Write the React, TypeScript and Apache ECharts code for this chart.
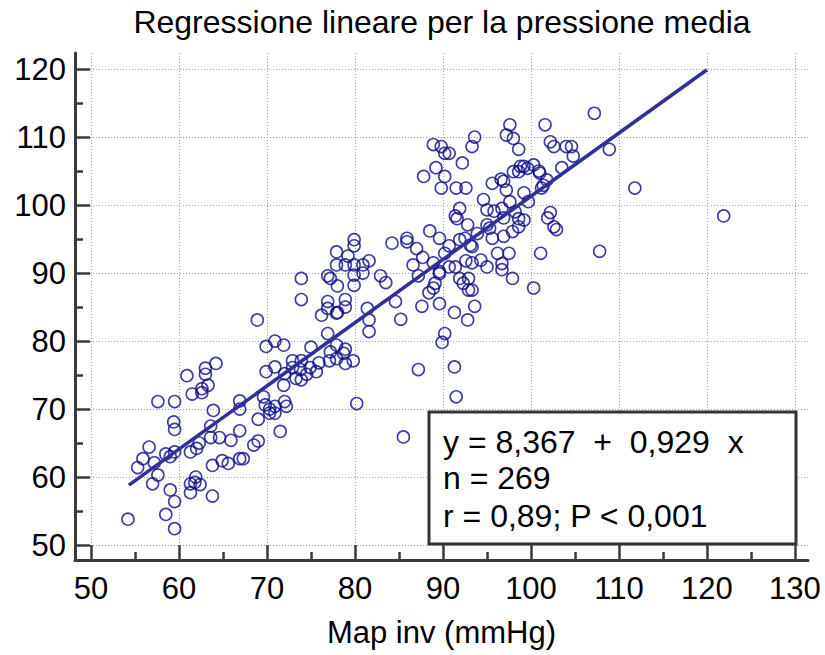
import React, { useEffect, useRef } from "react";
import * as echarts from "echarts";

// Map inv (mmHg) — x values
const mapInv: number[] = [
  54.2, 55.3, 55.9, 56.6, 57.2, 57.6, 57.0, 57.6, 58.5, 59.0, 59.0, 58.5, 59.5, 59.5, 59.5, 59.4, 59.5, 59.5,
  60.9, 61.5, 62.6, 62.6, 63.3, 63.0, 63.0, 64.2, 61.3, 62.0, 62.3, 61.3, 61.9, 61.8, 62.4, 61.3, 63.8, 63.8,
  63.6, 64.6, 63.6, 63.9, 64.9, 65.6, 65.9, 66.9, 66.9, 67.3, 66.9, 66.9, 68.5, 69.0, 69.0, 69.6, 69.8, 70.3,
  70.9, 70.9, 70.3, 69.9, 70.9, 69.9, 70.9, 71.5, 68.9,
  73.9, 76.9, 78.9, 78.9, 76.9, 76.2, 77.9, 81.4, 81.6, 81.6, 76.9, 71.9, 75.0, 77.9, 77.2, 78.7, 77.9, 77.1,
  78.9, 79.8, 72.9, 73.9, 75.9, 72.9, 73.8, 74.9, 75.6, 72.0, 73.3, 73.9, 74.5, 71.9, 72.0, 72.2, 80.2, 78.0,
  78.9,
  77.9, 79.9, 79.9, 79.2, 77.9, 78.9, 79.9, 80.9, 81.6, 80.9, 79.9, 79.9, 76.9, 77.2, 78.0, 73.9, 82.9, 83.5,
  84.2, 85.9, 86.6, 84.6, 85.2, 85.9, 87.0, 87.7, 87.2, 88.9, 89.6, 89.6, 88.5, 89.6, 90.7, 90.2, 91.9, 92.5,
  93.1, 93.3, 90.7, 91.4, 92.6, 93.3, 94.3, 95.0, 96.2, 96.7, 96.7, 97.5, 97.9, 91.9, 92.9, 92.3, 92.9, 93.3,
  89.1, 88.9, 88.4, 87.6, 89.6, 91.3, 93.6, 92.8, 90.2, 89.9, 87.2, 91.3, 91.5, 85.5,
  97.6, 97.2, 98.0, 98.6, 93.6, 93.3, 88.9, 89.8, 90.2, 90.7, 92.2, 89.2, 87.8, 90.2, 89.8, 91.5, 92.6, 95.6,
  96.6, 96.9, 97.2, 98.0, 98.6, 99.2, 99.6, 99.2, 94.6, 97.6, 91.9, 91.4, 91.6, 95.0, 95.8, 96.7, 96.9, 98.2,
  98.6, 99.2, 92.8, 93.9, 95.0, 95.3, 95.6, 96.9, 97.9, 98.6,
  107.2, 101.6, 102.2, 102.6, 104.0, 104.6, 104.8, 108.9, 103.5, 100.3, 100.9, 101.0, 98.8, 101.8, 101.4,
  101.2, 99.7, 111.8, 102.2, 101.9, 102.6, 102.9, 101.1, 107.8, 100.3, 121.9,
];

// Pressione media — y values
const pressione: number[] = [
  53.8, 61.4, 62.7, 64.4, 62.1, 60.3, 59.0, 71.1, 63.4, 63.0, 58.1, 54.5, 52.4, 56.4, 63.7, 68.1, 67.0, 71.1,
  74.9, 72.2, 73.0, 72.4, 73.5, 76.0, 75.1, 76.7, 63.7, 64.2, 65.0, 59.0, 60.0, 59.2, 58.9, 57.7, 57.2, 61.7,
  65.8, 65.8, 67.5, 69.8, 62.4, 62.0, 65.4, 66.8, 62.7, 62.7, 71.2, 70.0, 64.7, 65.3, 68.5, 71.8, 70.6, 69.4,
  69.4, 70.4, 70.0, 75.5, 76.2, 79.2, 80.0, 66.7, 83.1,
  86.1, 85.8, 86.1, 85.0, 84.8, 83.8, 84.1, 84.8, 83.1, 81.4, 81.1, 79.4, 79.1, 79.4, 78.4, 78.2, 77.4, 77.1,
  76.7, 77.1, 77.1, 77.1, 76.8, 76.1, 75.8, 76.1, 75.5, 75.2, 74.5, 74.3, 75.1, 73.5, 71.1, 70.4, 70.8, 84.2,
  78.8,
  93.1, 94.0, 94.9, 92.5, 91.2, 91.2, 91.2, 91.2, 91.8, 90.0, 89.7, 88.2, 89.6, 89.2, 88.1, 89.2, 89.6, 88.6,
  94.4, 94.6, 91.2, 85.8, 83.2, 95.1, 93.6, 92.3, 89.6, 91.5, 90.2, 89.9, 96.2, 95.1, 94.0, 92.9, 94.9, 95.1,
  94.1, 93.9, 90.9, 90.9, 91.8, 91.5, 91.9, 90.9, 92.9, 91.4, 90.5, 92.9, 89.2, 89.2, 89.2, 88.5, 87.5, 87.5,
  88.5, 87.8, 87.1, 85.1, 85.5, 84.2, 85.1, 83.1, 81.1, 79.8, 75.8, 76.2, 71.8, 65.9,
  111.8, 110.3, 109.8, 108.2, 110.0, 108.6, 108.9, 108.6, 107.6, 107.6, 106.2, 105.5, 104.2, 104.2, 102.5,
  102.5, 102.5, 103.2, 103.8, 103.5, 102.2, 104.9, 104.9, 105.7, 105.4, 101.8, 100.8, 100.5, 99.5, 98.4, 98.0,
  99.3, 99.1, 99.5, 98.1, 99.0, 98.0, 97.8, 97.1, 95.8, 97.1, 96.6, 95.1, 95.4, 96.1, 96.8,
  113.5, 111.8, 109.3, 108.6, 108.6, 108.6, 107.2, 108.2, 105.5, 105.9, 105.0, 104.7, 105.7, 103.7, 102.9,
  102.5, 100.5, 102.5, 98.9, 98.1, 96.8, 96.4, 92.9, 93.2, 87.8, 98.4,
];

// Regression line end points (y = 8,367 + 0,929 x)
const lineX: number[] = [54.3, 120.0];
const lineY: number[] = [58.8, 119.9];

const xTicks: number[] = [50, 60, 70, 80, 90, 100, 110, 120, 130];
const yTicks: number[] = [50, 60, 70, 80, 90, 100, 110, 120];

const titleText = "Regressione lineare per la pressione media";
const xName = "Map inv (mmHg)";
const statsLines: string[] = ["y = 8,367  +  0,929  x", "n = 269", "r = 0,89; P < 0,001"];

const FONT = '"Liberation Sans", Arial, sans-serif';
const AXIS_COLOR = "#3a3a3a";

export default function App() {
  const ref = useRef<HTMLDivElement>(null);

  useEffect(() => {
    if (!ref.current) return;
    const chart = echarts.init(ref.current, undefined, { renderer: "svg" });

    const points = mapInv.map((x, i) => [x, pressione[i]]);
    const linePts = lineX.map((x, i) => [x, lineY[i]]);

    const axisCommon = {
      type: "value" as const,
      splitNumber: 8,
      minInterval: 10,
      maxInterval: 10,
      axisLine: { show: true, onZero: false, lineStyle: { color: AXIS_COLOR, width: 3 } },
      axisTick: { show: true, inside: true, length: 15, lineStyle: { color: AXIS_COLOR, width: 2.5 } },
      minorTick: { show: true, splitNumber: 2, length: 8, lineStyle: { color: AXIS_COLOR, width: 2.5 } },
      splitLine: { show: true, lineStyle: { color: "#a0a0a0", width: 1, type: [1, 2] as any } },
      axisLabel: { color: "#000", fontSize: 31, fontFamily: FONT },
    };

    chart.setOption({
      animation: false,
      backgroundColor: "#fff",
      grid: { left: 75, top: 53, right: 17, bottom: 95, outerBoundsMode: "none" } as any,
      xAxis: {
        ...axisCommon,
        min: 48.18,
        max: 131.48,
        axisTick: { ...axisCommon.axisTick, customValues: xTicks },
        axisLabel: { ...axisCommon.axisLabel, customValues: xTicks, margin: 13 },
        name: xName,
        nameLocation: "middle",
        nameGap: 57,
        nameTextStyle: { color: "#000", fontSize: 31, fontFamily: FONT },
      },
      yAxis: {
        ...axisCommon,
        min: 47.8,
        max: 122.36,
        axisTick: { ...axisCommon.axisTick, customValues: yTicks },
        axisLabel: { ...axisCommon.axisLabel, customValues: yTicks, margin: 9 },
      },
      series: [
        {
          type: "scatter",
          data: points,
          symbol: "circle",
          symbolSize: 12,
          itemStyle: { color: "rgba(255,255,255,0)", borderColor: "#0c0c8c", borderWidth: 1.6 },
          z: 2,
        },
        {
          type: "line",
          data: linePts,
          showSymbol: false,
          symbol: "none",
          lineStyle: { color: "#30309a", width: 3.5 },
          z: 3,
        },
      ],
      graphic: [
        {
          type: "text",
          x: 442,
          y: 22,
          style: { text: titleText, fontSize: 32, fontFamily: FONT, fill: "#000", align: "center", verticalAlign: "middle" },
        },
        {
          type: "rect",
          shape: { x: 429, y: 412, width: 367, height: 132 },
          style: { fill: "#fff", stroke: "#333", lineWidth: 3 },
          z: 100,
        },
        ...statsLines.map((t, i) => ({
          type: "text",
          x: 443,
          y: [442, 478, 516][i],
          z: 101,
          style: { text: t, fontSize: 32, fontFamily: FONT, fill: "#000", align: "left", verticalAlign: "middle" },
        })),
      ],
    });

    return () => chart.dispose();
  }, []);

  return <div ref={ref} style={{ position: "absolute", left: 0, top: 0, width: 825, height: 655 }} />;
}
